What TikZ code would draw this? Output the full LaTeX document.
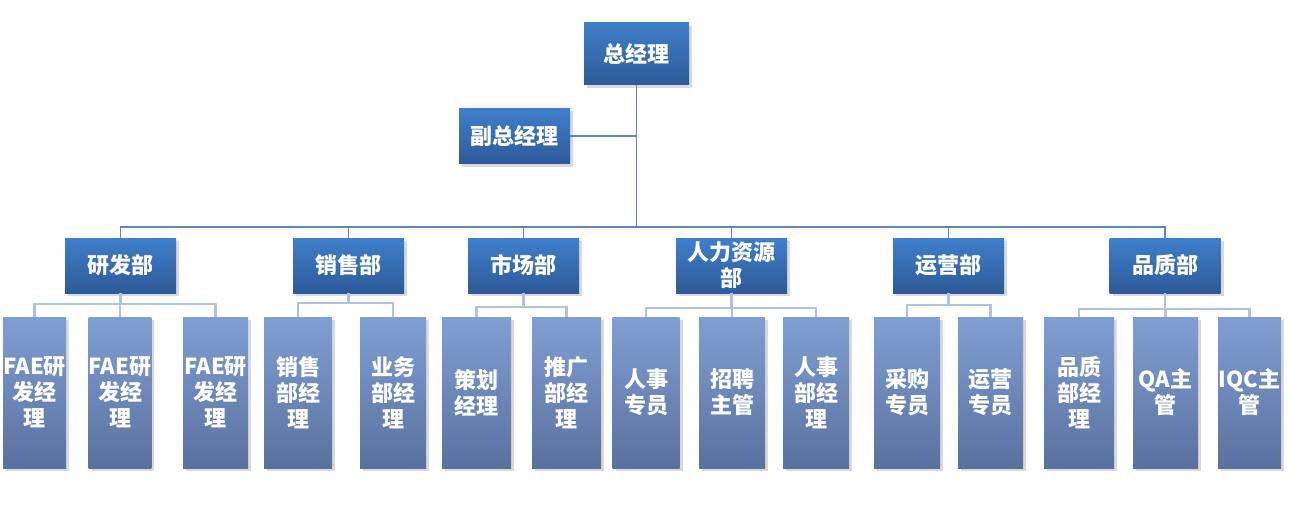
\documentclass[tikz,border=0pt]{standalone}
\usepackage{fontspec}
\setmainfont{Noto Sans CJK SC}
\usepackage{tikz}
\usetikzlibrary{shadows}

\definecolor{headtop}{HTML}{3F7FCB}
\definecolor{headbot}{HTML}{2D5A98}
\definecolor{posttop}{HTML}{7F9FD3}
\definecolor{postbot}{HTML}{5A719E}
\definecolor{mainln}{HTML}{5A86C2}
\definecolor{subln}{HTML}{AFC2DF}

\begin{document}
\begin{tikzpicture}[x=1pt,y=-1pt,
 head/.style={top color=headtop, bottom color=headbot, text=white, inner sep=0pt,
  minimum width=111pt, minimum height=55pt, align=center,
  font=\fontsize{22}{26}\selectfont\bfseries,
  drop shadow={opacity=0.3, shadow xshift=3pt, shadow yshift=-3pt}},
 post/.style={top color=posttop, bottom color=postbot, text=white, inner sep=0pt,
  minimum height=151pt, align=center,
  font=\fontsize{22}{26}\selectfont\bfseries,
  drop shadow={opacity=0.3, shadow xshift=3pt, shadow yshift=-3pt}},
 mainline/.style={mainln, line width=1.8pt},
 subline/.style={subln, line width=2.2pt}]
 \useasboundingbox (0,0) rectangle (1289,508);
 % top of the chart
 \coordinate (hub) at (636.5,227);
 \draw[mainline] (636.5,54) -- (hub);
 \draw[mainline] (570,136) -- (636.5,136);
 \node[head, minimum width=105pt, minimum height=62pt] (gm) at (636.5,54) {总经理};
 \node[head] (vgm) at (514.5,136) {副总经理};
 % departments
 \foreach \n/\x/\t in {rd/120.5/研发部, sa/348.5/销售部, mk/523.5/市场部,
   hr/731.5/{人力资源\\部}, op/948.5/运营部, qc/1165/品质部}
   \node[head] (\n) at (\x,265.5) {\t};
 \draw[mainline] (rd.north) |- (hub) -| (qc.north);
 \foreach \n in {sa,mk,hr,op}
   \draw[mainline] (\n.north) -- (\n.north |- hub);
 % staff
 \foreach \n/\x/\w/\t in {f1/34.5/63/{FAE研\\发经\\理}, f2/120/62/{FAE研\\发经\\理},
   f3/215.5/65/{FAE研\\发经\\理}, s1/298/68/{销售\\部经\\理}, s2/393/66/{业务\\部经\\理},
   m1/476.5/69/{策划\\经理}, m2/566.5/69/{推广\\部经\\理}, h1/646/67/{人事\\专员},
   h2/732/66/{招聘\\主管}, h3/816/66/{人事\\部经\\理}, o1/907/66/{采购\\专员},
   o2/990.5/65/{运营\\专员}, q1/1079/70/{品质\\部经\\理}, q2/1165.5/65/{QA主\\管},
   q3/1249.5/63/{IQC主\\管}}
   \node[post, minimum width=\w pt] (\n) at (\x,392.5) {\t};
 % department to staff
 \foreach \d/\a/\b/\y in {rd/f1/f3/304, sa/s1/s2/303, mk/m1/m2/307,
   hr/h1/h3/308, op/o1/o2/305, qc/q1/q3/309}
   \draw[subline] (\a.north) -- (\a.north |- 0,\y) -- (\b.north |- 0,\y) -- (\b.north)
     (\d.south) -- (\d.south |- 0,\y);
 \foreach \c/\y in {f2/304, h2/308, q2/309}
   \draw[subline] (\c.north) -- (\c.north |- 0,\y);
\end{tikzpicture}
\end{document}
